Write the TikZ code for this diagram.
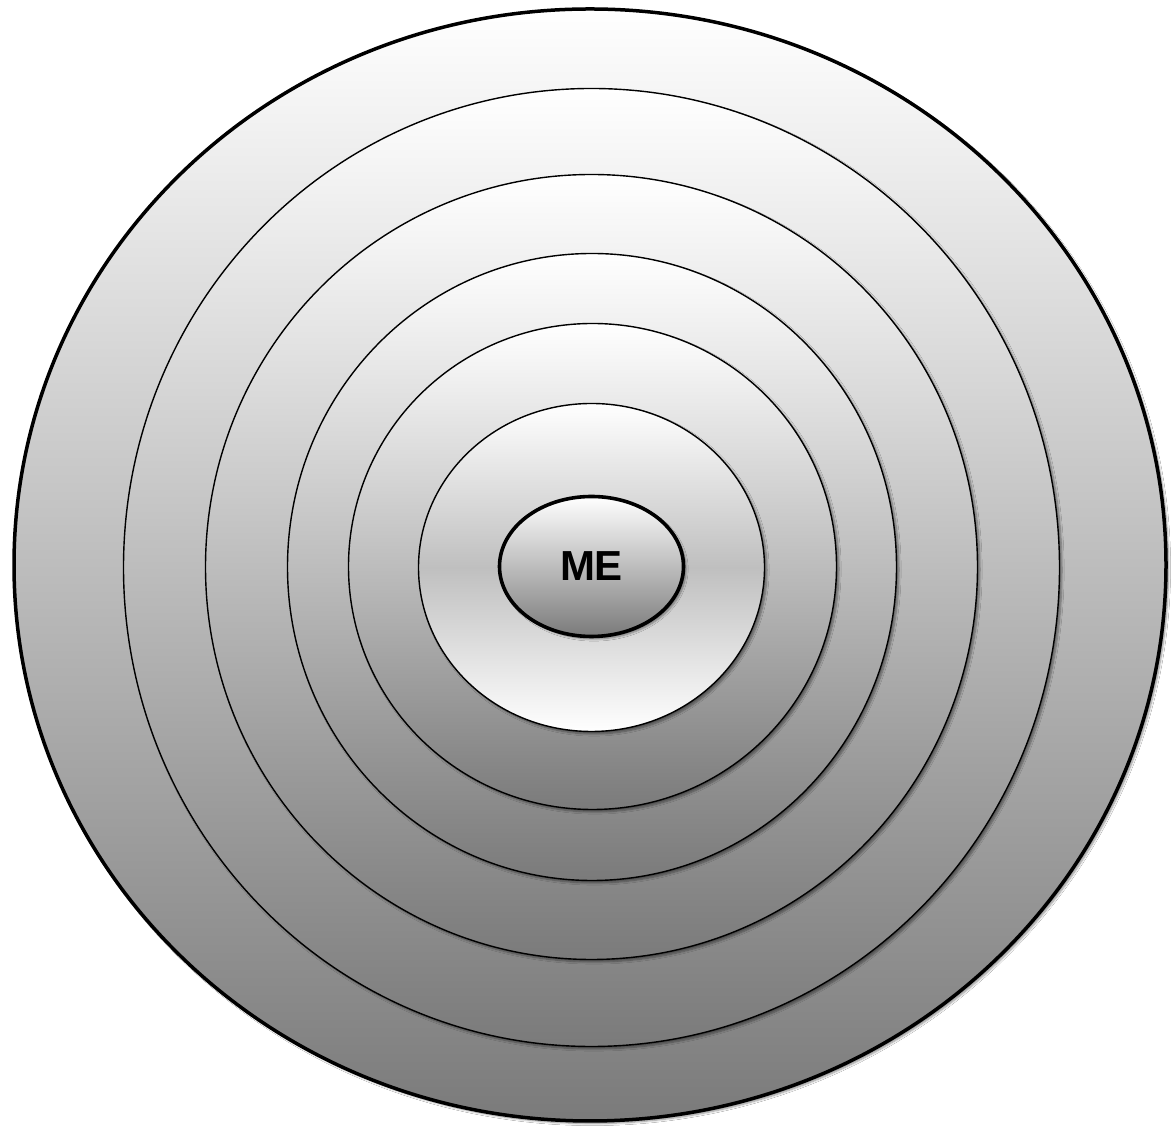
\documentclass[tikz,border=0pt]{standalone}
\usepackage{fontspec}
\setmainfont{Liberation Sans}
\usetikzlibrary{shapes.geometric,shadows.blur}
\tikzset{
  ring/.style={ellipse, draw=black, line width=1.4pt, inner sep=0pt,
    top color=white, bottom color=black!52,
    blur shadow={shadow xshift=2.5pt, shadow yshift=-2.5pt, shadow blur steps=6, shadow opacity=45}},
  outerring/.style={ring, line width=3.5pt},
  tubering/.style={ring, top color=white, bottom color=white, middle color=black!25},
  mering/.style={ring, line width=3.6pt, top color=white, bottom color=black!52,
    font=\bfseries\fontsize{42}{44}\selectfont}
}
\begin{document}
\begin{tikzpicture}[x=1pt,y=1pt]
\useasboundingbox (0,0) rectangle (1176,1129);
\fill[white] (0,0) rectangle (1176,1129);
\node[outerring, minimum width=1152pt, minimum height=1112pt] (r1) at (590,564) {};
\node[ring, minimum width=936pt, minimum height=958pt] (r2) at (591.5,561.5) {};
\node[ring, minimum width=772pt, minimum height=785pt] (r3) at (591.5,562) {};
\node[ring, minimum width=609pt, minimum height=627pt] (r4) at (592,562) {};
\node[ring, minimum width=488pt, minimum height=486pt] (r5) at (592.5,562.5) {};
\node[tubering, minimum width=346pt, minimum height=328pt] (r6) at (591.5,561.5) {};
\node[mering, minimum width=184pt, minimum height=140pt] (me) at (591.5,562.5) {ME};
\end{tikzpicture}
\end{document}
